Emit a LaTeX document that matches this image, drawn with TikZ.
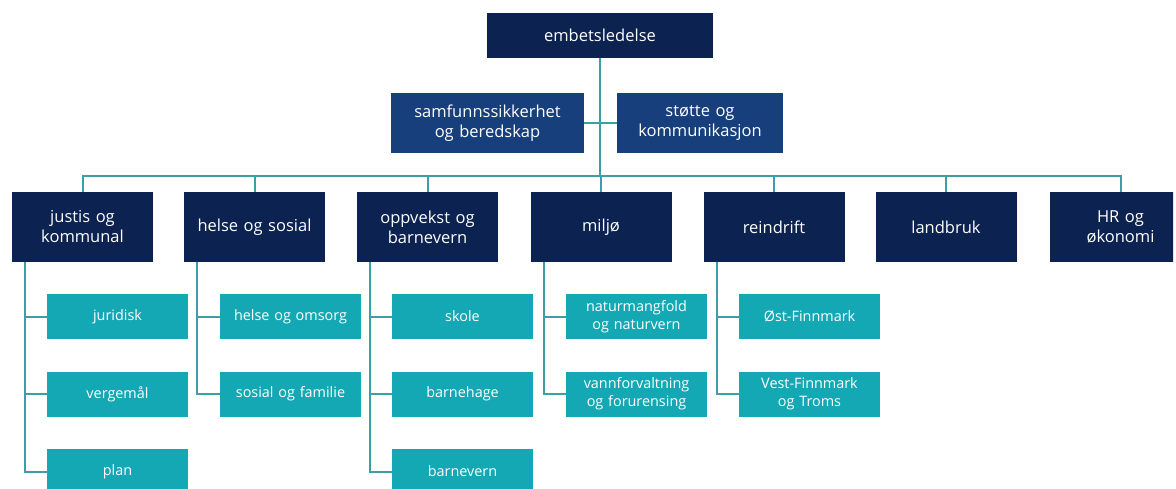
\documentclass[tikz,border=0pt]{standalone}
\usepackage{fontspec}
\setmainfont{Open Sans}
\usetikzlibrary{calc}
\definecolor{navy}{HTML}{0C2250}
\definecolor{midblue}{HTML}{173F7C}
\definecolor{tealbox}{HTML}{14A8B4}
\definecolor{tealline}{HTML}{3C9FA8}
\begin{document}
\begin{tikzpicture}[x=1pt,y=-1pt,
  base/.style={inner sep=0pt, outer sep=0pt, text=white, align=center, minimum height=45pt, text width=#1, minimum width=#1},
  base/.default=141pt,
  topbox/.style={base=226pt, fill=navy, font=\fontsize{16.5}{20}\selectfont},
  secbox/.style={base=#1, fill=midblue, minimum height=60pt, font=\fontsize{16.5}{20}\selectfont},
  deptbox/.style={base=141pt, fill=navy, minimum height=70pt, font=\fontsize{16.5}{20}\selectfont},
  subbox/.style={base=141pt, fill=tealbox, minimum height=45pt, font=\fontsize{14.4}{18}\selectfont},
  conn/.style={draw=tealline, line width=2pt}
]
\useasboundingbox (0,0) rectangle (1176,488);
\clip (0,0) rectangle (1176,488);

% top
\node[topbox] (emb) at (600,35.5) {embetsledelse};
\node[secbox=193pt] (sam) at (487.5,123) {samfunnssikkerhet\\og beredskap};
\node[secbox=166pt] (sto) at (700,123) {støtte og\\kommunikasjon};

% departments
\node[deptbox] (jus) at (82.5,227) {justis og\\kommunal};
\node[deptbox] (hel) at (254.5,227) {helse og sosial};
\node[deptbox] (opp) at (427.5,227) {oppvekst og\\barnevern};
\node[deptbox] (mil) at (601,227) {miljø};
\node[deptbox] (rei) at (774,227) {reindrift};
\node[deptbox] (lan) at (946,227) {landbruk};
\begin{scope}
\clip (1040,180) rectangle (1173,270);
\node[deptbox] (hr) at (1120.5,227) {HR og\\økonomi};
\end{scope}

% sub units
\node[subbox] (jur) at (117.5,316.5) {juridisk};
\node[subbox] (ver) at (117.5,394) {vergemål};
\node[subbox] (pla) at (117.5,471.5) {plan};
\node[subbox] (hom) at (290.5,316.5) {helse og omsorg};
\node[subbox] (sof) at (290.5,394) {sosial og familie};
\node[subbox] (sko) at (462.5,316.5) {skole};
\node[subbox] (bhg) at (462.5,394) {barnehage};
\node[subbox] (bvn) at (462.5,471.5) {barnevern};
\node[subbox] (nat) at (636.5,316.5) {naturmangfold\\og naturvern};
\node[subbox] (van) at (636.5,394) {vannforvaltning\\og forurensing};
\node[subbox] (ost) at (809.5,316.5) {Øst-Finnmark};
\node[subbox] (ves) at (809.5,394) {Vest-Finnmark\\og Troms};

% connectors top
\coordinate (bus) at (600,176);
\draw[conn] (emb.south) -- (bus);
\draw[conn] (sam.east) -- (sto.west);
\draw[conn] (jus.north) |- (bus);
\draw[conn] (hr.north) |- (bus);
\foreach \n in {hel,opp,mil,rei,lan} \draw[conn] (\n.north) -- (\n.north |- bus);

% connectors to sub units
\foreach \p/\c in {jus/jur,jus/ver,jus/pla,hel/hom,hel/sof,opp/sko,opp/bhg,opp/bvn,mil/nat,mil/van,rei/ost,rei/ves}
  \draw[conn] ($(\p.south west)+(13,0)$) |- (\c.west);
\end{tikzpicture}
\end{document}
